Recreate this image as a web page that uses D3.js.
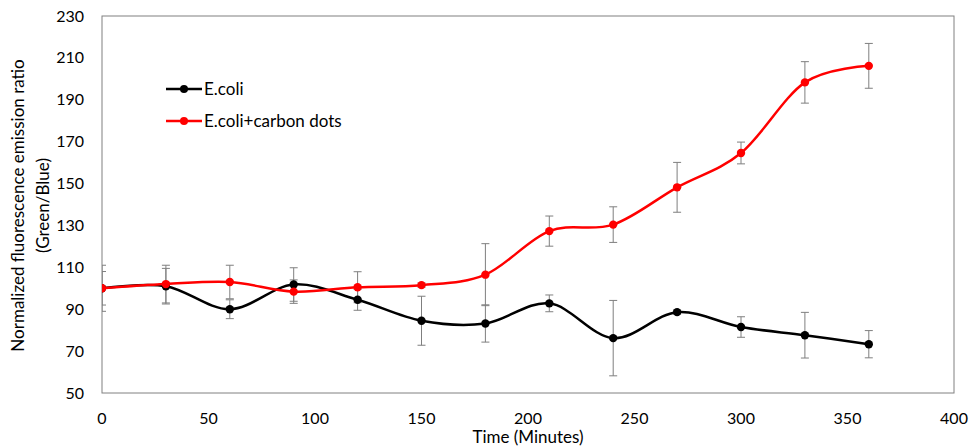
<!DOCTYPE html>
<html>
<head>
<meta charset="utf-8">
<script src="https://cdn.jsdelivr.net/npm/d3@7"></script>
<style>
body { margin: 0; background: #fff; }
svg { display: block; font-family: Lato, 'Open Sans', sans-serif; }
</style>
</head>
<body>
<script>
// time points (minutes)
var times = [0, 30, 60, 90, 120, 150, 180, 210, 240, 270, 300, 330, 360];
// E.coli series and its error
var ecoli = [100, 101, 90, 101.8, 94.5, 84.5, 83.2, 92.8, 76.2, 88.6, 81.5, 77.6, 73.3];
var ecoliErr = [11, 8.5, 4.5, 8, 5, 11.7, 8.9, 4, 18, 1, 4.9, 10.9, 6.5];
// E.coli + carbon dots series and its error
var carbon = [100, 102, 103, 98.4, 100.5, 101.5, 106.5, 127.3, 130.4, 148.2, 164.6, 198.3, 206.2];
var carbonErr = [8, 9, 8, 5.6, 7.4, 1, 14.8, 7.2, 8.5, 11.9, 5.2, 9.9, 10.7];

var xTicks = [0, 50, 100, 150, 200, 250, 300, 350, 400];
var yTicks = [50, 70, 90, 110, 130, 150, 170, 190, 210, 230];

var W = 972, H = 446;
var pLeft = 102, pRight = 954, pTop = 16, pBottom = 393;

var svg = d3.select('body').append('svg').attr('width', W).attr('height', H);

var x = d3.scaleLinear().domain([0, 400]).range([pLeft, pRight]);
var y = d3.scaleLinear().domain([50, 230]).range([pBottom, pTop]);

svg.append('defs').append('clipPath').attr('id', 'clip')
	.append('rect').attr('x', pLeft).attr('y', pTop).attr('width', pRight - pLeft).attr('height', pBottom - pTop);

// plot frame
svg.append('rect')
	.attr('x', pLeft).attr('y', pTop).attr('width', pRight - pLeft).attr('height', pBottom - pTop)
	.style('fill', 'none').style('stroke', '#808080').style('stroke-width', 1);

// tick labels
svg.selectAll('.ylab').data(yTicks).enter().append('text')
	.attr('x', 84).attr('y', function(d){ return y(d) + 5.5; })
	.attr('text-anchor', 'end').style('font-size', '16px').style('fill', '#000')
	.text(function(d){ return d; });

svg.selectAll('.xlab').data(xTicks).enter().append('text')
	.attr('x', function(d){ return x(d); }).attr('y', 424)
	.attr('text-anchor', 'middle').style('font-size', '16px').style('fill', '#000')
	.text(function(d){ return d; });

// axis titles
svg.append('text').attr('x', x(200)).attr('y', 443)
	.attr('text-anchor', 'middle').style('font-size', '17px')
	.text('Time (Minutes)');

var yt = svg.append('text').attr('transform', 'translate(24,' + ((pTop + pBottom) / 2 + 1) + ') rotate(-90)')
	.attr('text-anchor', 'middle').style('font-size', '17px');
yt.append('tspan').attr('x', 0).attr('dy', 0).text('Normalized fluorescence emission ratio');
yt.append('tspan').attr('x', 0).attr('dy', 25).text('(Green/Blue)');

var series = [
	{vals: ecoli, err: ecoliErr, color: '#000000'},
	{vals: carbon, err: carbonErr, color: '#ff0000'}
];

var plot = svg.append('g').attr('clip-path', 'url(#clip)');

// error bars
series.forEach(function(s){
	var g = plot.append('g').style('stroke', '#7f7f7f').style('stroke-width', 1);
	times.forEach(function(t, i){
		var cx = x(t), y1 = y(s.vals[i] + s.err[i]), y2 = y(s.vals[i] - s.err[i]);
		g.append('line').attr('x1', cx).attr('x2', cx).attr('y1', y1).attr('y2', y2);
		g.append('line').attr('x1', cx - 4).attr('x2', cx + 4).attr('y1', y1).attr('y2', y1);
		g.append('line').attr('x1', cx - 4).attr('x2', cx + 4).attr('y1', y2).attr('y2', y2);
	});
});

var line = d3.line()
	.x(function(d){ return x(d[0]); })
	.y(function(d){ return y(d[1]); })
	.curve(d3.curveCardinal.tension(0));

series.forEach(function(s){
	var pts = times.map(function(t, i){ return [t, s.vals[i]]; });
	plot.append('path').attr('d', line(pts))
		.style('fill', 'none').style('stroke', s.color).style('stroke-width', 2.5);
	plot.selectAll(null).data(pts).enter().append('circle')
		.attr('cx', function(d){ return x(d[0]); })
		.attr('cy', function(d){ return y(d[1]); })
		.attr('r', 4.2).style('fill', s.color);
});

// legend
var legendNames = ['E.coli', 'E.coli+carbon dots'];
var legendY = [89, 121];
legendNames.forEach(function(name, i){
	var g = svg.append('g');
	g.append('line').attr('x1', 166).attr('x2', 202).attr('y1', legendY[i]).attr('y2', legendY[i])
		.style('stroke', series[i].color).style('stroke-width', 2.5);
	g.append('circle').attr('cx', 184).attr('cy', legendY[i]).attr('r', 4).style('fill', series[i].color);
	g.append('text').attr('x', 204).attr('y', legendY[i] + 6).style('font-size', '17px').text(name);
});
</script>
</body>
</html>
